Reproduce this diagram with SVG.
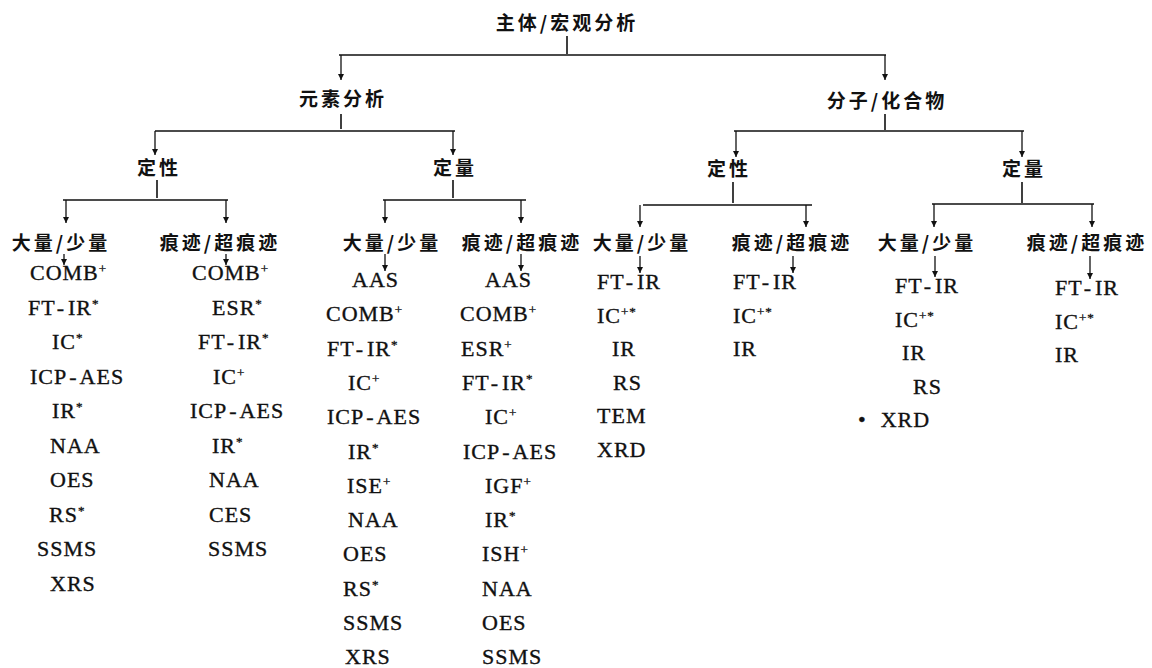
<svg xmlns="http://www.w3.org/2000/svg" width="1152" height="668" viewBox="0 0 1152 668">
<defs>
<marker id="ah" viewBox="0 0 10 10" refX="10" refY="5" markerWidth="9" markerHeight="6" markerUnits="userSpaceOnUse" orient="auto">
<path d="M0,0 L10,5 L0,10 Z" fill="#111"/>
</marker>
<style>
.cn{font-family:"Noto Sans CJK SC","Noto Sans CJK JP",sans-serif;font-size:19px;font-weight:bold;letter-spacing:3px;fill:#111;text-anchor:middle}
.it{font-family:"Liberation Serif","DejaVu Serif",serif;font-size:22px;letter-spacing:1px;fill:#111;stroke:#111;stroke-width:0.35}
.sup{font-size:13px}
.ln{stroke:#111;stroke-width:1.6;fill:none}
.ar{stroke:#111;stroke-width:1.3;fill:none;marker-end:url(#ah)}
</style>
</defs>
<rect width="1152" height="668" fill="#fff"/>

<g id="connectors">
<path class="ln" d="M567,36 V54 M339,55 H886"/>
<line class="ar" x1="341" y1="55" x2="341" y2="80"/>
<line class="ar" x1="885" y1="55" x2="885" y2="80"/>
<path class="ln" d="M341,114 V129 M155,131 H455"/>
<line class="ar" x1="155" y1="131" x2="155" y2="155"/>
<line class="ar" x1="453" y1="131" x2="453" y2="155"/>
<path class="ln" d="M885,114 V130 M734,131 H1024"/>
<line class="ar" x1="736" y1="131" x2="736" y2="157"/>
<line class="ar" x1="1022" y1="131" x2="1022" y2="157"/>
<path class="ln" d="M157,180 V198 M63,200 H228 M453,180 V198 M383,200 H526"/>
<line class="ar" x1="66" y1="200" x2="66" y2="223"/>
<line class="ar" x1="226" y1="200" x2="226" y2="223"/>
<line class="ar" x1="385" y1="200" x2="385" y2="223"/>
<line class="ar" x1="521" y1="200" x2="521" y2="223"/>
<path class="ln" d="M733,182 V203 M643,205 H812 M1022,182 V203 M932,204 H1094"/>
<line class="ar" x1="640" y1="205" x2="640" y2="227"/>
<line class="ar" x1="806" y1="205" x2="806" y2="227"/>
<line class="ar" x1="934" y1="204" x2="934" y2="227"/>
<line class="ar" x1="1092" y1="204" x2="1092" y2="227"/>
<line class="ar" x1="64" y1="254" x2="64" y2="265"/>
<line class="ar" x1="226" y1="254" x2="226" y2="265"/>
<line class="ar" x1="385" y1="254" x2="385" y2="271"/>
<line class="ar" x1="521" y1="254" x2="521" y2="271"/>
<line class="ar" x1="640" y1="256" x2="640" y2="273"/>
<line class="ar" x1="793" y1="256" x2="793" y2="273"/>
<line class="ar" x1="935" y1="256" x2="935" y2="277"/>
<line class="ar" x1="1090" y1="256" x2="1090" y2="279"/>
</g>

<g id="n-root"><text class="cn" x="567" y="30">主体/宏观分析</text></g>
<g id="n-element"><text class="cn" x="343" y="106">元素分析</text></g>
<g id="n-molecule"><text class="cn" x="887" y="108">分子/化合物</text></g>
<g id="n-el-qual"><text class="cn" x="159" y="175">定性</text></g>
<g id="n-el-quant"><text class="cn" x="455" y="175">定量</text></g>
<g id="n-mol-qual"><text class="cn" x="729" y="176">定性</text></g>
<g id="n-mol-quant"><text class="cn" x="1024" y="176">定量</text></g>

<g id="n-c1">
<text class="cn" x="61" y="250">大量/少量</text>
<text class="it" x="30" y="280">COMB<tspan class="sup" dy="-7">+</tspan></text>
<text class="it" x="28" y="315">FT<tspan dx="3">-</tspan><tspan dx="3">IR</tspan><tspan class="sup" dy="-7">*</tspan></text>
<text class="it" x="52" y="349">IC<tspan class="sup" dy="-7">*</tspan></text>
<text class="it" x="30" y="384">ICP<tspan dx="2">-</tspan><tspan dx="2">AES</tspan></text>
<text class="it" x="52" y="418">IR<tspan class="sup" dy="-7">*</tspan></text>
<text class="it" x="50" y="453">NAA</text>
<text class="it" x="50" y="487">OES</text>
<text class="it" x="49" y="522">RS<tspan class="sup" dy="-7">*</tspan></text>
<text class="it" x="37" y="556">SSMS</text>
<text class="it" x="50" y="591">XRS</text>
</g>

<g id="n-c2">
<text class="cn" x="220" y="250">痕迹/超痕迹</text>
<text class="it" x="192" y="280">COMB<tspan class="sup" dy="-7">+</tspan></text>
<text class="it" x="212" y="315">ESR<tspan class="sup" dy="-7">*</tspan></text>
<text class="it" x="198" y="349">FT<tspan dx="3">-</tspan><tspan dx="3">IR</tspan><tspan class="sup" dy="-7">*</tspan></text>
<text class="it" x="213" y="384">IC<tspan class="sup" dy="-7">+</tspan></text>
<text class="it" x="190" y="418">ICP<tspan dx="2">-</tspan><tspan dx="2">AES</tspan></text>
<text class="it" x="212" y="453">IR<tspan class="sup" dy="-7">*</tspan></text>
<text class="it" x="209" y="487">NAA</text>
<text class="it" x="209" y="522">CES</text>
<text class="it" x="208" y="556">SSMS</text>
</g>

<g id="n-c3">
<text class="cn" x="392" y="250">大量/少量</text>
<text class="it" x="352" y="287">AAS</text>
<text class="it" x="326" y="321">COMB<tspan class="sup" dy="-7">+</tspan></text>
<text class="it" x="327" y="356">FT<tspan dx="3">-</tspan><tspan dx="3">IR</tspan><tspan class="sup" dy="-7">*</tspan></text>
<text class="it" x="348" y="390">IC<tspan class="sup" dy="-7">+</tspan></text>
<text class="it" x="327" y="424">ICP<tspan dx="2">-</tspan><tspan dx="2">AES</tspan></text>
<text class="it" x="348" y="459">IR<tspan class="sup" dy="-7">*</tspan></text>
<text class="it" x="347" y="493">ISE<tspan class="sup" dy="-7">+</tspan></text>
<text class="it" x="348" y="527">NAA</text>
<text class="it" x="343" y="561">OES</text>
<text class="it" x="343" y="596">RS<tspan class="sup" dy="-7">*</tspan></text>
<text class="it" x="343" y="630">SSMS</text>
<text class="it" x="345" y="664">XRS</text>
</g>

<g id="n-c4">
<text class="cn" x="522" y="250">痕迹/超痕迹</text>
<text class="it" x="485" y="287">AAS</text>
<text class="it" x="460" y="321">COMB<tspan class="sup" dy="-7">+</tspan></text>
<text class="it" x="461" y="356">ESR<tspan class="sup" dy="-7">+</tspan></text>
<text class="it" x="462" y="390">FT<tspan dx="3">-</tspan><tspan dx="3">IR</tspan><tspan class="sup" dy="-7">*</tspan></text>
<text class="it" x="485" y="424">IC<tspan class="sup" dy="-7">+</tspan></text>
<text class="it" x="463" y="459">ICP<tspan dx="2">-</tspan><tspan dx="2">AES</tspan></text>
<text class="it" x="485" y="493">IGF<tspan class="sup" dy="-7">+</tspan></text>
<text class="it" x="485" y="527">IR<tspan class="sup" dy="-7">*</tspan></text>
<text class="it" x="482" y="561">ISH<tspan class="sup" dy="-7">+</tspan></text>
<text class="it" x="482" y="596">NAA</text>
<text class="it" x="482" y="630">OES</text>
<text class="it" x="482" y="664">SSMS</text>
</g>

<g id="n-c5">
<text class="cn" x="642" y="250">大量/少量</text>
<text class="it" x="597" y="289">FT<tspan dx="3">-</tspan><tspan dx="3">IR</tspan></text>
<text class="it" x="597" y="323">IC<tspan class="sup" dy="-7">+*</tspan></text>
<text class="it" x="612" y="356">IR</text>
<text class="it" x="613" y="390">RS</text>
<text class="it" x="597" y="423">TEM</text>
<text class="it" x="597" y="457">XRD</text>
</g>

<g id="n-c6">
<text class="cn" x="792" y="250">痕迹/超痕迹</text>
<text class="it" x="733" y="289">FT<tspan dx="3">-</tspan><tspan dx="3">IR</tspan></text>
<text class="it" x="733" y="323">IC<tspan class="sup" dy="-7">+*</tspan></text>
<text class="it" x="733" y="356">IR</text>
</g>

<g id="n-c7">
<text class="cn" x="927" y="250">大量/少量</text>
<text class="it" x="895" y="293">FT<tspan dx="3">-</tspan><tspan dx="3">IR</tspan></text>
<text class="it" x="895" y="327">IC<tspan class="sup" dy="-7">+*</tspan></text>
<text class="it" x="902" y="360">IR</text>
<text class="it" x="913" y="394">RS</text>
<text class="it" x="858" y="427">•<tspan dx="14">XRD</tspan></text>
</g>

<g id="n-c8">
<text class="cn" x="1087" y="250">痕迹/超痕迹</text>
<text class="it" x="1055" y="295">FT<tspan dx="3">-</tspan><tspan dx="3">IR</tspan></text>
<text class="it" x="1055" y="329">IC<tspan class="sup" dy="-7">+*</tspan></text>
<text class="it" x="1055" y="362">IR</text>
</g>
</svg>
